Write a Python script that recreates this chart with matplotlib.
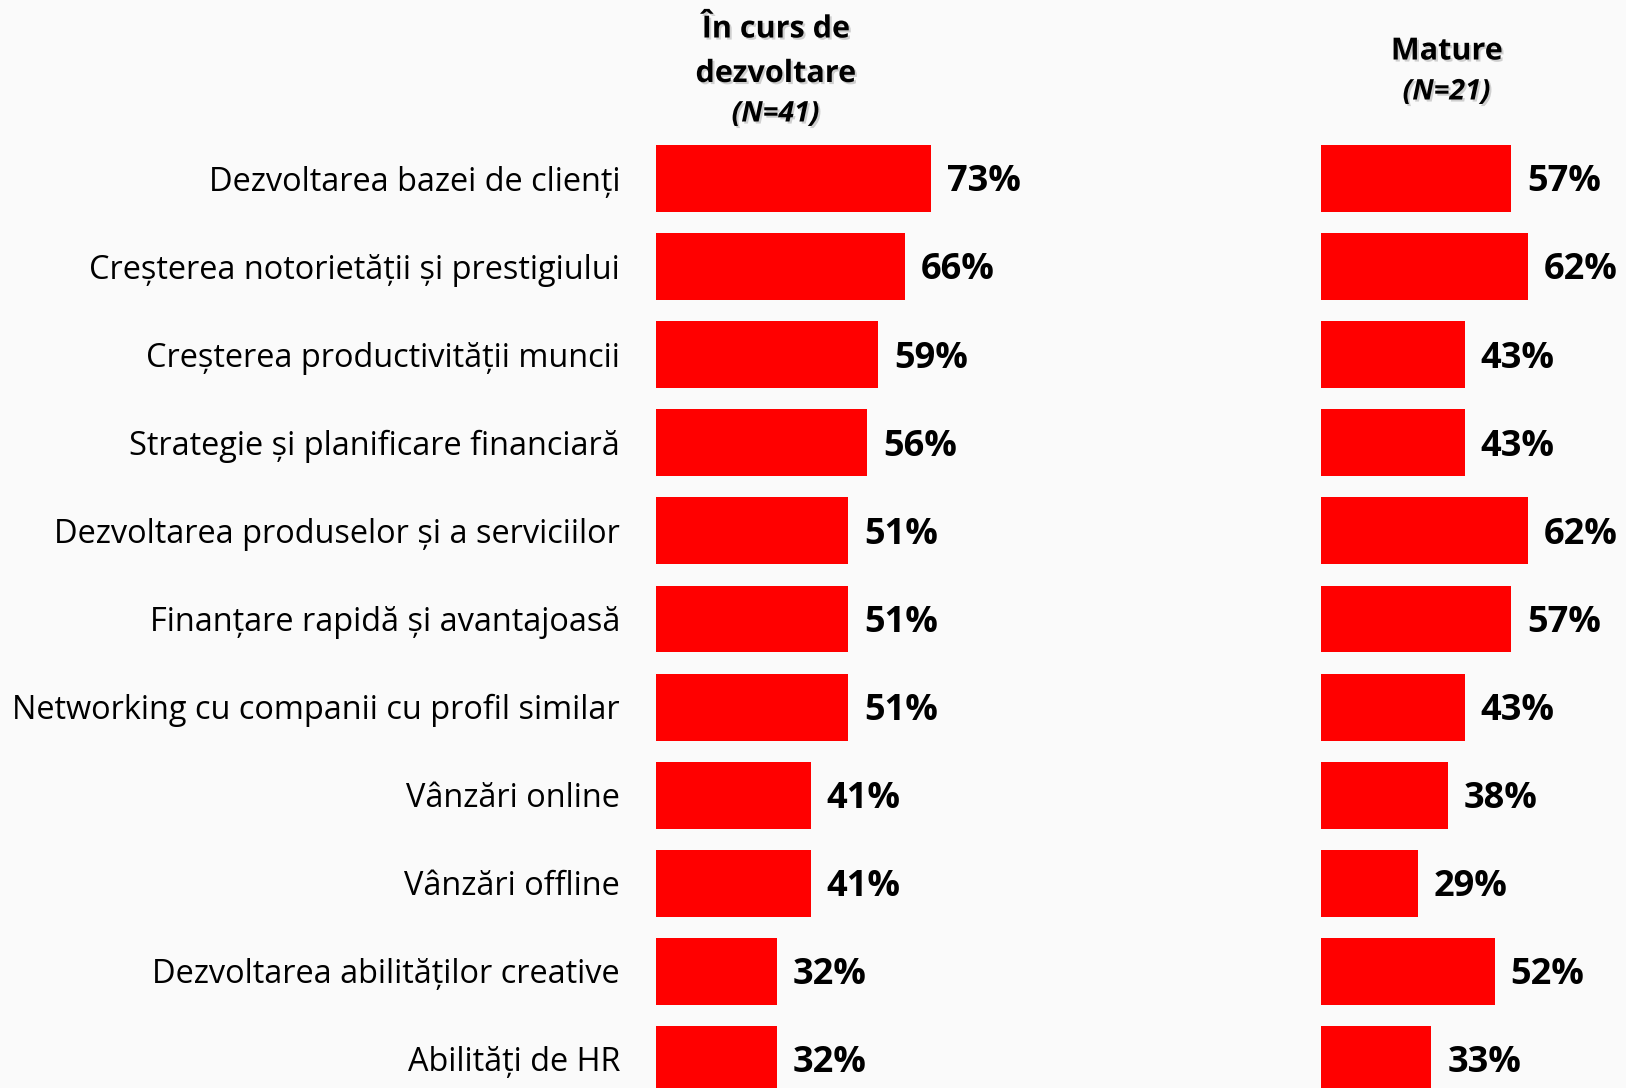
import matplotlib.pyplot as plt
import matplotlib.patheffects as pe

categories = [
    "Dezvoltarea bazei de clienți",
    "Creșterea notorietății și prestigiului",
    "Creșterea productivității muncii",
    "Strategie și planificare financiară",
    "Dezvoltarea produselor și a serviciilor",
    "Finanțare rapidă și avantajoasă",
    "Networking cu companii cu profil similar",
    "Vânzări online",
    "Vânzări offline",
    "Dezvoltarea abilităților creative",
    "Abilități de HR",
]
in_curs = [73, 66, 59, 56, 51, 51, 51, 41, 41, 32, 32]
mature = [57, 62, 43, 43, 62, 57, 43, 38, 29, 52, 33]

header_left = ["În curs de", "dezvoltare"]
n_left = "(N=41)"
header_right = "Mature"
n_right = "(N=21)"

W, H = 1626, 1088
bg = "#fafafa"
red = "#ff0000"
font = "Open Sans"

fig = plt.figure(figsize=(W / 100, H / 100), dpi=100, facecolor=bg)

# row geometry in pixels
row0, step = 178.5, 88.1
ylim = ((H - row0) / step, -row0 / step)

def panel(x0, px_per, values):
    width_px = W - x0
    ax = fig.add_axes([x0 / W, 0, width_px / W, 1])
    ax.set_facecolor("none")
    ax.set_xlim(0, width_px / px_per)
    ax.set_ylim(*ylim)
    ypos = range(len(values))
    ax.barh(ypos, values, height=0.76, color=red, linewidth=0)
    for y, v in zip(ypos, values):
        ax.annotate(f"{v}%", (v, y), xytext=(11.5, -2.8), textcoords="offset points",
                    ha="left", va="center", fontsize=26, fontweight="bold",
                    family=font, color="black")
    ax.axis("off")
    return ax

ax1 = panel(656, 3.77, in_curs)
ax2 = panel(1321, 3.34, mature)

# category labels
for i, c in enumerate(categories):
    fig.text(620 / W, 1 - (row0 + 3.5 + i * step) / H, c, ha="right", va="center",
             fontsize=23.4, family=font, color="black")

shadow = [pe.withSimplePatchShadow(offset=(1.5, -1.5), shadow_rgbFace="gray", alpha=0.35)]

def header(xc, lines, ys, size, style):
    for txt, y in zip(lines, ys):
        fig.text(xc / W, 1 - y / H, txt, ha="center", va="center", fontsize=size,
                 fontweight="bold", fontstyle=style, family=font, path_effects=shadow)

header(775.6, header_left, [29.5, 74], 22, "normal")
header(775.6, [n_left], [114], 20.5, "italic")
header(1446.6, [header_right], [51.5], 22, "normal")
header(1446.6, [n_right], [92], 20.5, "italic")

fig.savefig("out.png", dpi=100, facecolor=bg)
